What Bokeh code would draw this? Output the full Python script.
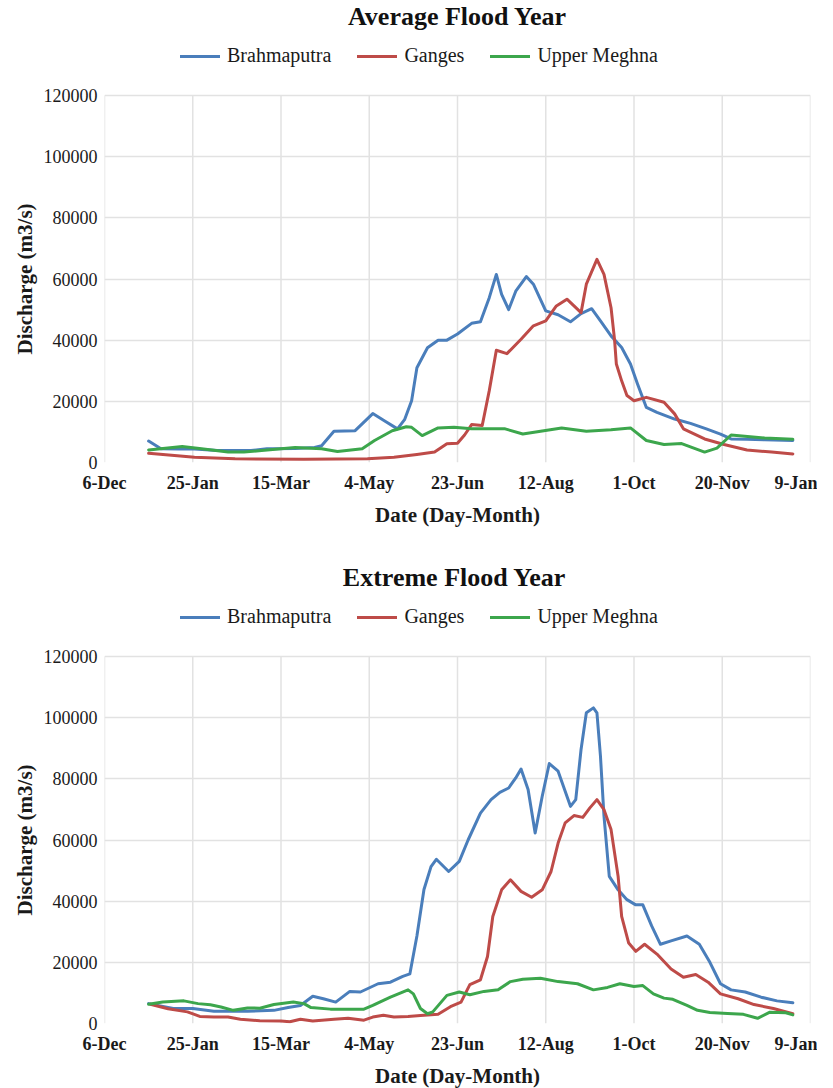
from bokeh.plotting import figure
from bokeh.models import Legend, LegendItem, FixedTicker, Range1d, NumeralTickFormatter, Label, Title
from bokeh.layouts import column
from bokeh.embed import file_html
from bokeh.resources import INLINE

# x = days after 6-Dec
tick_days = [0, 50, 100, 150, 200, 250, 300, 350, 400]
tick_labels = ["6-Dec", "25-Jan", "15-Mar", "4-May", "23-Jun", "12-Aug", "1-Oct", "20-Nov", "9-Jan"]
y_ticks = [0, 20000, 40000, 60000, 80000, 100000, 120000]
series_names = ["Brahmaputra", "Ganges", "Upper Meghna"]

# ---- Average flood year ----
avg_brahmaputra_day = [25, 32, 42, 51, 64, 83, 92, 108, 119, 123, 130, 142, 152, 159, 166, 170, 174, 177, 183, 189,
                       194, 200, 208, 213, 218, 222, 225, 229, 233, 239, 243, 250, 257, 264, 270, 276, 281, 287, 293,
                       298, 302, 307, 313, 323, 332, 341, 349, 355, 364, 374, 390]
avg_brahmaputra_q = [7000, 4500, 4400, 4400, 3900, 3900, 4500, 4600, 4900, 5500, 10200, 10400, 16000, 13500, 11000,
                     14000, 20200, 31000, 37500, 40000, 40000, 42000, 45500, 46000, 53900, 61500, 55000, 50000, 56000,
                     60800, 58300, 49600, 48300, 46000, 48700, 50300, 46300, 41400, 37600, 32200, 25700, 18000, 16400,
                     14200, 12800, 11000, 9300, 7700, 7600, 7400, 7200]

avg_ganges_day = [25, 51, 74, 113, 149, 164, 177, 187, 194, 200, 204, 208, 214, 218, 222, 228, 236, 243, 250, 256,
                  262, 266, 270, 273, 279, 283, 287, 289, 290, 293, 296, 300, 307, 317, 323, 328, 340, 351, 364, 378, 390]
avg_ganges_q = [3000, 1700, 1200, 1100, 1200, 1700, 2600, 3400, 6100, 6300, 9000, 12400, 12100, 23500, 36700, 35600,
                40300, 44700, 46300, 51200, 53400, 51200, 49000, 58300, 66400, 61500, 50600, 40000, 32200, 26700,
                21900, 20200, 21300, 19700, 15900, 11000, 7700, 5900, 4100, 3400, 2800]

avg_meghna_day = [25, 44, 55, 70, 79, 89, 108, 123, 132, 146, 153, 163, 171, 174, 180, 189, 198, 208, 227, 237,
                  259, 273, 287, 298, 307, 317, 327, 340, 347, 355, 374, 390]
avg_meghna_q = [4100, 5200, 4500, 3400, 3400, 3900, 4900, 4500, 3600, 4500, 7200, 10400, 11700, 11500, 8800, 11300,
                11500, 11000, 11000, 9300, 11300, 10200, 10700, 11300, 7200, 5900, 6200, 3400, 4700, 9000, 8000, 7600]

# ---- Extreme flood year ----
ext_brahmaputra_day = [25, 39, 50, 62, 81, 96, 104, 111, 118, 124, 131, 139, 145, 155, 162, 169, 173, 177, 181, 185,
                       188, 195, 201, 206, 213, 219, 224, 229, 233, 236, 240, 244, 248, 252, 257, 260, 264, 267, 270,
                       273, 277, 279, 281, 283, 286, 291, 296, 301, 305, 310, 315, 321, 330, 337, 343, 349, 355, 363,
                       372, 381, 390]
ext_brahmaputra_q = [6500, 4900, 4900, 4000, 4000, 4300, 5200, 5900, 8900, 8100, 7000, 10500, 10300, 13000, 13500,
                     15400, 16200, 28600, 43800, 51300, 53700, 49700, 53000, 60000, 68800, 73200, 75600, 77000, 80300,
                     83200, 76500, 62300, 74300, 85000, 82500, 77600, 71000, 73200, 89600, 101600, 103200, 101600,
                     87400, 67800, 48100, 43700, 40500, 38800, 38800, 31900, 25900, 27000, 28600, 25900, 20000, 13000,
                     11000, 10300, 8600, 7400, 6800]

ext_ganges_day = [26, 36, 47, 54, 62, 70, 77, 88, 100, 105, 111, 118, 130, 138, 147, 152, 158, 164, 172, 179, 189,
                  196, 202, 207, 213, 217, 220, 225, 230, 236, 242, 248, 253, 257, 261, 266, 271, 275, 279, 283, 287,
                  291, 293, 297, 301, 306, 313, 321, 328, 335, 342, 349, 359, 368, 379, 390]
ext_ganges_q = [6300, 4800, 3800, 2300, 2100, 2100, 1400, 900, 800, 600, 1400, 800, 1400, 1700, 1100, 2100, 2700, 2100,
                2300, 2600, 3000, 5500, 7000, 12700, 14300, 21900, 35000, 43700, 47000, 43200, 41300, 43700, 49700,
                59000, 65600, 68000, 67400, 70500, 73200, 69900, 63400, 48100, 35000, 26300, 23600, 25900, 22700,
                17800, 15100, 16000, 13500, 9700, 8100, 6200, 4900, 3200]

ext_meghna_day = [25, 33, 45, 53, 60, 66, 73, 81, 88, 96, 107, 113, 117, 128, 147, 152, 162, 172, 175, 179, 183, 186,
                  194, 201, 207, 215, 223, 230, 237, 247, 257, 268, 277, 285, 292, 300, 305, 311, 317, 322, 330, 336,
                  343, 353, 362, 370, 377, 386, 390]
ext_meghna_q = [6300, 7000, 7400, 6500, 6100, 5400, 4300, 5100, 5000, 6200, 7000, 6500, 5200, 4700, 4700, 5900, 8600,
                11000, 9700, 4900, 3200, 3800, 9200, 10300, 9400, 10500, 11000, 13700, 14500, 14800, 13700, 13000,
                11000, 11800, 13000, 12100, 12400, 9700, 8300, 7900, 5900, 4300, 3600, 3300, 3000, 1700, 3700, 3500,
                2800]

colors = ["#4a7ebb", "#be4b48", "#3ca64c"]
SERIF = "Liberation Serif"
FRAME_W = 706
PLOT_H = 367      # pixel height of the 0..120000 band
EXTRA = 95        # pixel band above 120000 holding title and legend
Y_MAX = 120000
LEG_H = 22
TITLE_Y = 16      # title centre, px below top of frame
LEG_Y = 56        # legend centre, px below top of frame
YLABEL_LEN = 151  # approx. rendered length of the y-axis title


def make_fig(title, days_list, q_list, left, right, bottom, title_dx):
    frame_h = PLOT_H + EXTRA
    y_top = Y_MAX * frame_h / PLOT_H
    p = figure(title=None, frame_width=FRAME_W, frame_height=frame_h,
               x_range=Range1d(0, 400), y_range=Range1d(0, y_top),
               output_backend="svg", toolbar_location=None,
               min_border_left=left, min_border_right=right, min_border_top=0, min_border_bottom=bottom)
    p.outline_line_color = None
    p.background_fill_color = "white"
    p.border_fill_color = "white"

    # vertical grid lines, only over the 0..120000 band
    p.segment(x0=tick_days, y0=[0] * len(tick_days), x1=tick_days, y1=[Y_MAX] * len(tick_days),
              line_color="#e2e2e2", line_width=1.5)

    renderers = []
    for d, q, c in zip(days_list, q_list, colors):
        r = p.line(d, q, line_color=c, line_width=3, line_join="round", line_cap="round")
        renderers.append(r)

    p.add_layout(Label(x=FRAME_W / 2 + title_dx, y=frame_h - TITLE_Y, x_units="screen", y_units="screen",
                       text=title, text_align="center", text_baseline="middle",
                       text_font=SERIF, text_font_style="bold", text_font_size="26px", text_color="#111111"))

    p.xaxis.ticker = FixedTicker(ticks=tick_days)
    p.xaxis.major_label_overrides = {t: l for t, l in zip(tick_days, tick_labels)}
    p.yaxis.ticker = FixedTicker(ticks=y_ticks)
    p.yaxis.formatter = NumeralTickFormatter(format="0")
    for ax in (p.xaxis[0], p.yaxis[0]):
        ax.axis_line_color = None
        ax.major_tick_line_color = None
        ax.minor_tick_line_color = None
        ax.major_tick_out = 0
        ax.major_tick_in = 0
        ax.minor_tick_out = 0
        ax.major_label_text_font = SERIF
        ax.major_label_text_font_size = "18px"
        ax.major_label_text_color = "#1a1a1a"
        ax.axis_label_text_font = SERIF
        ax.axis_label_text_font_style = "bold"
        ax.axis_label_text_font_size = "21px"
        ax.axis_label_text_color = "#1a1a1a"
    p.xaxis.major_label_text_font_style = "bold"
    p.xaxis.axis_label = "Date (Day-Month)"
    p.xaxis.major_label_standoff = 10
    p.xaxis.axis_label_standoff = 7
    p.yaxis.major_label_standoff = 7

    # y-axis title, centred on the 0..120000 band
    p.add_layout(Title(text="Discharge (m3/s)", align="left", offset=(PLOT_H - YLABEL_LEN) / 2, standoff=7,
                       text_font=SERIF, text_font_style="bold", text_font_size="21px",
                       text_color="#1a1a1a"), "left")

    p.xgrid.visible = False
    p.ygrid.ticker = FixedTicker(ticks=y_ticks)
    p.ygrid.grid_line_color = "#e2e2e2"
    p.ygrid.grid_line_width = 1.5

    items = [LegendItem(label=n, renderers=[r]) for n, r in zip(series_names, renderers)]
    legend = Legend(items=items, orientation="horizontal",
                    location=(76, frame_h - LEG_Y - LEG_H // 2),
                    glyph_width=40, glyph_height=LEG_H, label_height=LEG_H, label_standoff=7, spacing=26,
                    padding=0, margin=0, border_line_color=None, background_fill_alpha=0,
                    label_text_font=SERIF, label_text_font_size="20px", label_text_color="#1a1a1a")
    p.add_layout(legend, "center")
    return p


p1 = make_fig("Average Flood Year",
              [avg_brahmaputra_day, avg_ganges_day, avg_meghna_day],
              [avg_brahmaputra_q, avg_ganges_q, avg_meghna_q],
              left=100, right=11, bottom=99, title_dx=0)
p2 = make_fig("Extreme Flood Year",
              [ext_brahmaputra_day, ext_ganges_day, ext_meghna_day],
              [ext_brahmaputra_q, ext_ganges_q, ext_meghna_q],
              left=104, right=7, bottom=65, title_dx=-3)

layout = column(p1, p2, spacing=0)
open("out.html", "w").write(file_html(layout, INLINE))
